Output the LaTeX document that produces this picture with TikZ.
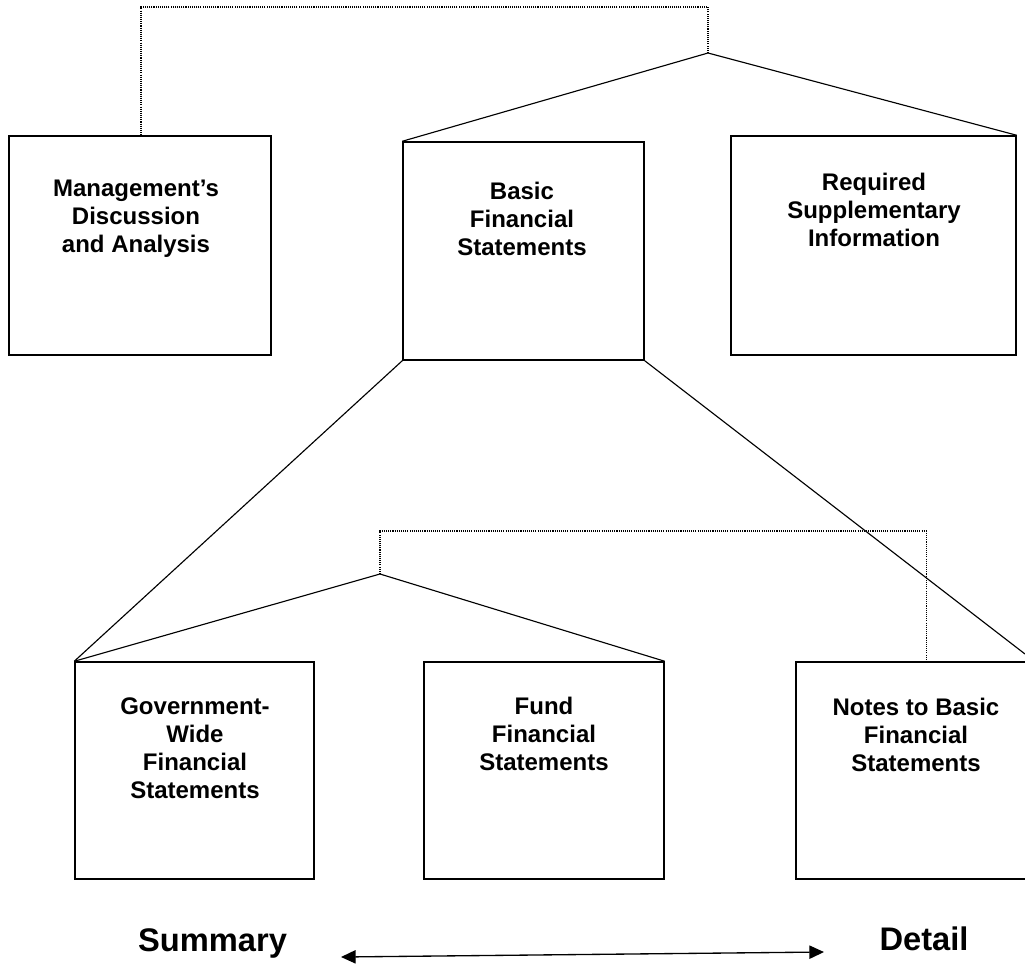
\documentclass[tikz,border=0pt]{standalone}
\usepackage{fontspec}
\setmainfont{Liberation Sans}
\usetikzlibrary{arrows.meta}
\begin{document}
\begin{tikzpicture}[x=0.75pt,y=-0.75pt,
  box/.style={draw, line width=1.1pt, inner sep=0pt, minimum height=162.75pt},
  lbl/.style={font=\bfseries\fontsize{18pt}{21pt}\selectfont, align=center, inner sep=0pt, anchor=north},
  big/.style={font=\bfseries\fontsize{24.5pt}{28pt}\selectfont, inner sep=0pt, anchor=north},
  conn/.style={draw, line width=0.85pt},
  dotline/.style={draw, line width=0.8pt, dash pattern=on 0.8pt off 0.8pt},
  arr/.style={draw, line width=1pt, {Triangle[length=11pt,width=10pt]}-{Triangle[length=11pt,width=10pt]}}]
\useasboundingbox (0,0) rectangle (1025,965);

% top level boxes
\node[box, minimum width=196.5pt, minimum height=164.25pt] (mda) at (140,245.5) {};
\node[box, minimum width=180.75pt, minimum height=163.5pt] (bfs) at (523.5,251) {};
\node[box, minimum width=213.75pt, minimum height=164.25pt] (rsi) at (873.5,245.5) {};

% bottom level boxes
\node[box, minimum width=179.25pt] (gov) at (194.5,770.5) {};
\node[box, minimum width=180pt] (fund) at (544,770.5) {};
\node[box, minimum width=173.25pt] (notes) at (911.5,770.5) {};

% texts
\node[lbl] (mdaT) at (136,180) {Management’s\\Discussion\\and Analysis};
\node[lbl] (bfsT) at (522,182) {Basic\\Financial\\Statements};
\node[lbl] (rsiT) at (874,173) {Required\\Supplementary\\Information};
\node[lbl] (govT) at (195,697) {Government-\\Wide\\Financial\\Statements};
\node[lbl] (fundT) at (544,697) {Fund\\Financial\\Statements};
\node[lbl] (notesT) at (916,698) {Notes to Basic\\Financial\\Statements};

\node[big] (sum) at (212.5,928) {Summary};
\node[big] (det) at (924,927) {Detail};

% connectors
\coordinate (apexT) at (708,53);
\coordinate (apexB) at (380,574);
\coordinate (nr) at (1025,654);
\coordinate (aL) at (341,957);
\coordinate (aR) at (824,952);

\draw[conn] (bfs.north west) -- (apexT) -- (rsi.north east);
\draw[dotline] (apexT) -- ++(0,-46) -| ([xshift=0.75pt]mda.north);

\draw[conn] (bfs.south west) -- (gov.north west);
\draw[conn] (bfs.south east) -- (nr);

\draw[conn] (gov.north west) -- (apexB) -- (fund.north east);
\draw[dotline] (apexB) -- ++(0,-43) -| ([xshift=10.9pt]notes.north);

\draw[arr] (aL) -- (aR);
\end{tikzpicture}
\end{document}
